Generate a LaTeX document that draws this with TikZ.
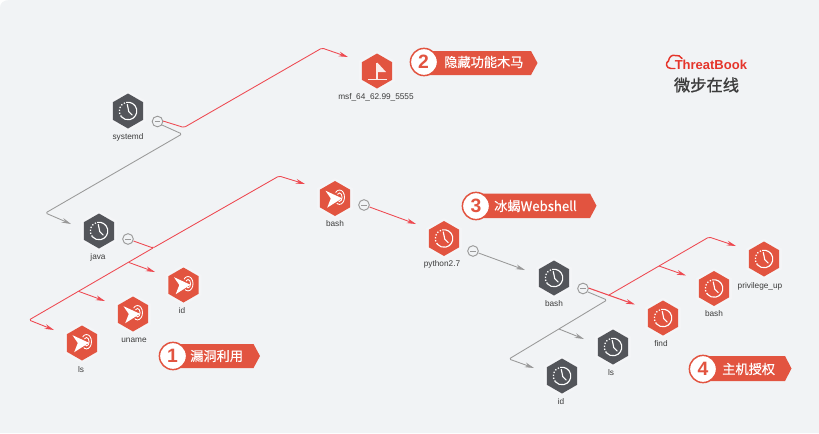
\documentclass[tikz,border=0pt]{standalone}
\usepackage{fontspec}
\setmainfont{Liberation Sans}
\newfontfamily\cjk[FakeBold=0.5]{Noto Sans CJK SC}
\newfontfamily\cjkb[FakeBold=1.2]{Noto Sans CJK SC}
\usetikzlibrary{arrows.meta,calc}
\definecolor{bgc}{HTML}{F1F3F5}
\definecolor{redh}{HTML}{E25440}
\definecolor{grayh}{HTML}{53555A}
\definecolor{redl}{HTML}{EE4A52}
\definecolor{grayl}{HTML}{9A9A9A}
\definecolor{txt}{HTML}{3C3C3C}
\definecolor{logor}{HTML}{E5352B}
\tikzset{
  x=0.75pt,y=-0.75pt,
  lbl/.style={font=\fontsize{6.2}{7}\selectfont,text=txt,inner sep=0pt},
  minusbtn/.style={circle,draw=grayl,fill=bgc,line width=0.7pt,minimum size=8pt,inner sep=0pt},
  redlink/.style={draw=redl,line width=0.65pt,line join=round,rounded corners=1.2pt},
  graylink/.style={draw=grayl,line width=0.65pt,line join=round,rounded corners=1.2pt},
  redarrow/.style={redlink,-{Stealth[length=7pt,width=3.6pt,fill=logor]}},
  grayarrow/.style={graylink,-{Stealth[length=7pt,width=3.6pt,fill=grayl!80!black]}},
  tagtext/.style={font=\cjk\fontsize{9.9}{11}\selectfont,text=white,anchor=west,inner sep=0pt},
  numtext/.style={font=\fontsize{14.5}{15}\selectfont\bfseries,text=redh,inner sep=0pt},
}
\newcommand{\hexshape}[3]{%
  \fill[white!18!bgc] ($(#2,#3)+(0,-20.5)$) -- ++(18,10.25) -- ++(0,20.5) -- ++(-18,10.25) -- ++(-18,-10.25) -- ++(0,-20.5) -- cycle;
  \fill[#1] ($(#2,#3)+(0,-17.5)$) -- ++(15.2,8.75) -- ++(0,17.5) -- ++(-15.2,8.75) -- ++(-15.2,-8.75) -- ++(0,-17.5) -- cycle;
}
\newcommand{\clockicon}[2]{%
  \begin{scope}[shift={(#1,#2)},yscale=-1]
    \draw[white,line width=0.85pt] (102:8.8) arc[start angle=102,end angle=-140,radius=8.8];
    \draw[white,line width=0.95pt,dash pattern=on 1pt off 1.3pt] (220:8.8) arc[start angle=220,end angle=108,radius=8.8];
    \draw[white,line width=0.85pt,line cap=round,line join=round] (-0.7,6.5) -- (0.8,-0.7) -- (4.2,-4);
  \end{scope}}
\newcommand{\targeticon}[2]{%
  \begin{scope}[shift={(#1,#2)},yscale=-1]
    \draw[white,line width=0.65pt] (4.5,1.3) ellipse[x radius=5,y radius=7.2];
    \draw[white,line width=0.65pt] (4.5,1.3) ellipse[x radius=2.6,y radius=4.2];
    \fill[redh] (-11,9) -- (0.5,6) -- (5.5,0.5) -- (0.5,-6) -- (-11,-11) -- cycle;
    \fill[white] (-9.5,7.8) -- (7,0.2) -- (-7.8,-9.2) -- (-4.2,0) -- cycle;
  \end{scope}}
\newcommand{\flagicon}[2]{%
  \begin{scope}[shift={(#1,#2)},yscale=-1]
    \draw[white!88!redh,line width=0.85pt] (-9.5,-8.3) -- (9.5,-8.3);
    \draw[white!88!redh,line width=0.85pt] (0,-8.3) -- (0,8.3);
    \fill[white!88!redh] (0.3,8.5) -- (9,-1) -- (0.3,-1) -- cycle;
  \end{scope}}
\newcommand{\tagshape}[5]{%
  \fill[redh] (#1,#4) -- (#3,#4) -- ($(#3,#4)!.5!(#3,#5)+(6.5,0)$) -- (#3,#5) -- (#1,#5) -- cycle;
  \fill[white] (#1,#2) circle[radius=13.2*0.75pt];
  \draw[redh,line width=1.1pt] (#1,#2) circle[radius=13.6*0.75pt];
}
\begin{document}
\begin{tikzpicture}
\useasboundingbox (0,0) rectangle (819,433);
\fill[white] (0,0) rectangle (819,433);
\fill[bgc] (0,8) .. controls (0,3) and (3,0) .. (10,0) -- (819,0) -- (819,433) -- (0,433) -- cycle;

% hexagons
\hexshape{grayh}{128}{111}\clockicon{128}{111}
\hexshape{grayh}{99}{231}\clockicon{99}{231}
\hexshape{redh}{183.5}{285}\targeticon{183.5}{285}
\hexshape{redh}{133}{314}\targeticon{133}{314}
\hexshape{redh}{82}{343}\targeticon{82}{343}
\hexshape{redh}{377}{71}\flagicon{377}{71}
\hexshape{redh}{335}{198.5}\targeticon{335}{198.5}
\hexshape{redh}{444}{238.5}\clockicon{444}{238.5}
\hexshape{grayh}{554}{278}\clockicon{554}{278}
\hexshape{redh}{663}{318}\clockicon{663}{318}
\hexshape{redh}{714}{288.5}\clockicon{714}{288.5}
\hexshape{redh}{764}{259}\clockicon{764}{259}
\hexshape{grayh}{613}{347}\clockicon{613}{347}
\hexshape{grayh}{562}{376}\clockicon{562}{376}

% labels
\node[lbl] (tsystemd) at (128,137) {systemd};
\node[lbl] (tjava) at (98,257) {java};
\node[lbl] (tida) at (182,311) {id};
\node[lbl] (tuname) at (134,340.5) {uname};
\node[lbl] (tlsa) at (81,369.5) {ls};
\node[lbl] (tmsf) at (376,97) {msf\_64\_62.99\_5555};
\node[lbl] (tbasha) at (335,223.5) {bash};
\node[lbl] (tpython) at (442,264) {python2.7};
\node[lbl] (tbashb) at (554,303.5) {bash};
\node[lbl] (tfind) at (661,343.5) {find};
\node[lbl] (tbashc) at (714,313.5) {bash};
\node[lbl] (tpriv) at (760,286) {privilege\_up};
\node[lbl] (tlsb) at (611,372.5) {ls};
\node[lbl] (tidb) at (561,401.5) {id};

% minus buttons
\foreach \n/\x/\y in {mA/157.5/121.5,mB/128/239,mC/364/205,mD/473/251,mE/583/288.5}{
  \node[minusbtn] (\n) at (\x,\y) {};
  \draw[grayl,line width=0.7pt] ($(\x,\y)+(-2.8,0)$) -- ($(\x,\y)+(2.8,0)$);
}

% arrow ends
\coordinate (tipmsf) at (348,57);
\coordinate (tipjava) at (71,224);
\coordinate (tipbashA) at (305,184);
\coordinate (tipid) at (155,272);
\coordinate (tipuname) at (105,301);
\coordinate (tipls) at (54,330);
\coordinate (tippy) at (416,224);
\coordinate (tipbashB) at (525,270);
\coordinate (tipfind) at (635,304.5);
\coordinate (tipbashC) at (686,275.5);
\coordinate (tippriv) at (736,246);
\coordinate (tiplsB) at (584,339);
\coordinate (tipidB) at (534,368);

% connectors
\draw[redarrow] (mA) ++(5.5,-0.5) -- (184,127.5) -- (322,48) -- (tipmsf);
\draw[grayarrow] (mA) ++(4.5,3.5) -- (182,134) -- (45.5,213) -- (tipjava);
\draw[redarrow] (mB) ++(5.5,2) -- (153,248) -- (279,176) -- (tipbashA);
\draw[redarrow] (153,248) -- (29,320) -- (tipls);
\draw[redarrow] (129,262.5) -- (tipid);
\draw[redarrow] (79,291.5) -- (tipuname);
\draw[redarrow] (mC) ++(5.5,2) -- (tippy);
\draw[grayarrow] (mD) ++(5.5,2) -- (tipbashB);
\draw[redarrow,line width=0.8pt] (mE) ++(5.5,-0.5) -- (tipfind);
\draw[redarrow] (609,295) -- (709,237) -- (tippriv);
\draw[redarrow] (659,266) -- (tipbashC);
\draw[grayarrow] (mE) ++(5,3.5) -- (607,300) -- (509,359) -- (tipidB);
\draw[grayarrow] (559,329) -- (tiplsB);

% callouts
\tagshape{173}{356}{253.5}{344}{368}
\node[numtext] (n1) at (172.5,356) {1};
\node[tagtext] (c1) at (190,356) {漏洞利用};
\tagshape{424}{62}{531}{51}{75}
\node[numtext] (n2) at (423.5,62) {2};
\node[tagtext] (c2) at (444,62) {隐藏功能木马};
\tagshape{476}{206}{590}{193.5}{218}
\node[numtext] (n3) at (476,206) {3};
\node[tagtext] (c3) at (494,206) {冰蝎Webshell};
\tagshape{703}{369}{785}{356}{381}
\node[numtext] (n4) at (703,369) {4};
\node[tagtext] (c4) at (722,369) {主机授权};

% logo
\draw[logor,line width=1.1pt,line cap=round,line join=round]
  (675,68.5) -- (671,68.5) .. controls (665.5,68.5) and (665.5,62) .. (668.5,61)
  .. controls (669,57) and (672,54.5) .. (675,55.5) .. controls (678,54.5) and (681,56.5) .. (682,58.5);
\node[inner sep=0pt,anchor=west,text=logor,font=\fontsize{9.75}{12}\selectfont\bfseries] (brand) at (674.5,64.5) {ThreatBook};
\node[inner sep=0pt,text=txt,font=\cjkb\fontsize{12.2}{14}\selectfont] (brandcn) at (706.5,85) {微步在线};
\end{tikzpicture}
\end{document}
